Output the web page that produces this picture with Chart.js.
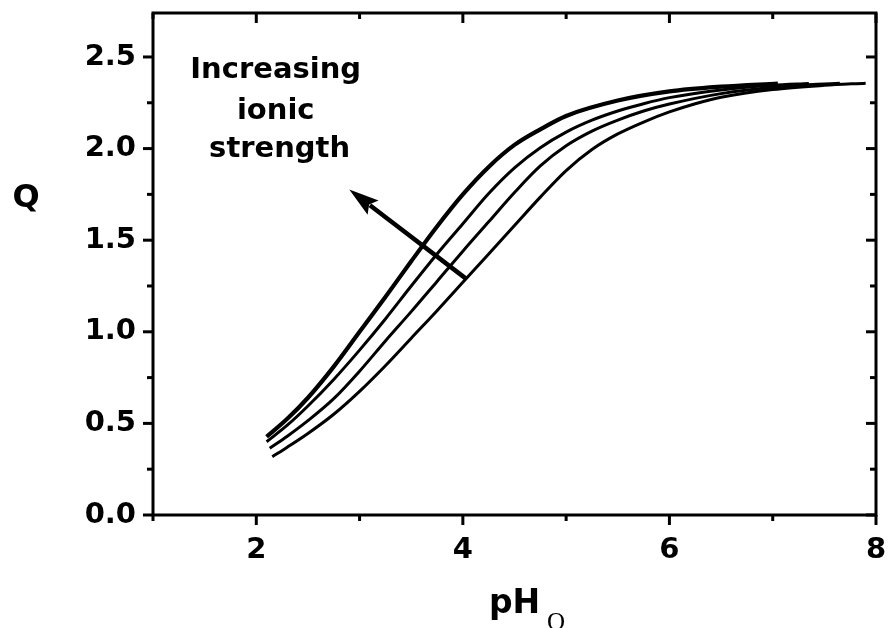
<!DOCTYPE html>
<html><head><meta charset="utf-8">
<script src="https://cdn.jsdelivr.net/npm/chart.js@4.4.1/dist/chart.umd.min.js"></script>
<style>html,body{margin:0;padding:0;background:#fff;}canvas{display:block;}</style>
</head><body>
<canvas id="c" width="888" height="628"></canvas>
<script>
// ---- data ----
const curve1PH = [2.10, 2.30, 2.50, 2.75, 3.00, 3.25, 3.50, 3.75, 4.00, 4.25, 4.50, 4.75, 5.00, 5.50, 6.00, 6.50, 7.05];
const curve1Q  = [0.427, 0.525, 0.64, 0.81, 1.00, 1.19, 1.385, 1.575, 1.75, 1.90, 2.02, 2.105, 2.178, 2.262, 2.312, 2.338, 2.355];
const curve2PH = [2.10, 2.30, 2.50, 2.75, 3.00, 3.25, 3.50, 3.75, 4.00, 4.25, 4.50, 4.75, 5.00, 5.25, 5.50, 5.75, 6.00, 6.50, 7.00, 7.35];
const curve2Q  = [0.40, 0.49, 0.595, 0.74, 0.90, 1.07, 1.25, 1.425, 1.59, 1.755, 1.895, 2.005, 2.09, 2.155, 2.205, 2.245, 2.278, 2.32, 2.345, 2.355];
const curve3PH = [2.13, 2.30, 2.50, 2.75, 3.00, 3.25, 3.50, 3.75, 4.00, 4.25, 4.50, 4.75, 5.00, 5.25, 5.50, 5.75, 6.00, 6.50, 7.00, 7.65];
const curve3Q  = [0.364, 0.43, 0.515, 0.635, 0.785, 0.95, 1.11, 1.275, 1.44, 1.60, 1.76, 1.905, 2.015, 2.095, 2.155, 2.205, 2.243, 2.30, 2.335, 2.357];
const curve4PH = [2.155, 2.30, 2.50, 2.75, 3.00, 3.25, 3.50, 3.75, 4.00, 4.25, 4.50, 4.75, 5.00, 5.25, 5.50, 5.75, 6.00, 6.25, 6.50, 7.00, 7.50, 7.90];
const curve4Q  = [0.318, 0.37, 0.445, 0.55, 0.675, 0.815, 0.965, 1.115, 1.27, 1.425, 1.58, 1.735, 1.88, 1.995, 2.08, 2.145, 2.20, 2.245, 2.28, 2.322, 2.345, 2.357];

const xTickValues = [2, 4, 6, 8];
const xTickLabels = ['2', '4', '6', '8'];
const xMinorValues = [1, 3, 5, 7];
const yTickValues = [0, 0.5, 1.0, 1.5, 2.0, 2.5];
const yTickLabels = ['0.0', '0.5', '1.0', '1.5', '2.0', '2.5'];
const yMinorValues = [0.25, 0.75, 1.25, 1.75, 2.25];

const xTitle = 'pH';
const xTitleSub = 'O';
const yTitle = 'Q';
const noteLines = ['Increasing', 'ionic', 'strength'];
// arrow: tail on the last curve, head pointing up-left (data units)
const arrowTail = {x: 4.03, y: 1.29};
const arrowTip  = {x: 2.90, y: 1.777};

function zip(xs, ys) { return xs.map((x, i) => ({x: x, y: ys[i]})); }
function near(a, b) { return Math.abs(a - b) < 1e-6; }

const FONT = '"DejaVu Sans", sans-serif';

const decor = {
  id: 'decor',
  beforeDraw(chart) {
    const c = chart.ctx;
    c.save(); c.fillStyle = '#fff'; c.fillRect(0, 0, chart.width, chart.height); c.restore();
  },
  afterDraw(chart) {
    const c = chart.ctx, a = chart.chartArea;
    const xs = chart.scales.x, ys = chart.scales.y;
    c.save();
    c.strokeStyle = '#000'; c.fillStyle = '#000';
    // frame
    c.lineWidth = 3;
    c.strokeRect(a.left, a.top, a.right - a.left, a.bottom - a.top);
    // ticks
    c.lineWidth = 3;
    const MAJ = 10, MIN = 6;
    function xt(v, len) {
      const p = xs.getPixelForValue(v);
      c.beginPath(); c.moveTo(p, a.bottom); c.lineTo(p, a.bottom + len); c.stroke();
      c.beginPath(); c.moveTo(p, a.top); c.lineTo(p, a.top + len); c.stroke();
    }
    function yt(v, len) {
      const p = ys.getPixelForValue(v);
      c.beginPath(); c.moveTo(a.left, p); c.lineTo(a.left - len, p); c.stroke();
      c.beginPath(); c.moveTo(a.right, p); c.lineTo(a.right - len, p); c.stroke();
    }
    xTickValues.forEach(v => xt(v, MAJ));
    xMinorValues.forEach(v => xt(v, MIN));
    yTickValues.forEach(v => yt(v, MAJ));
    yMinorValues.forEach(v => yt(v, MIN));
    // axis titles
    c.textBaseline = 'alphabetic';
    c.font = 'bold 32px ' + FONT;
    c.textAlign = 'center';
    c.fillText(yTitle, 26, 207);
    c.textAlign = 'left';
    c.font = 'bold 33px ' + FONT;
    c.fillText(xTitle, 489, 613);
    c.font = '25px "Liberation Serif", serif';
    c.fillText(xTitleSub, 547, 630);
    // note text
    c.font = 'bold 29px ' + FONT;
    c.textAlign = 'center';
    const nx = xs.getPixelForValue(2.188);
    c.fillText(noteLines[0], nx, ys.getPixelForValue(2.383));
    c.fillText(noteLines[1], nx, ys.getPixelForValue(2.164));
    c.fillText(noteLines[2], xs.getPixelForValue(2.226), ys.getPixelForValue(1.955));
    // arrow
    const tx = xs.getPixelForValue(arrowTail.x), ty = ys.getPixelForValue(arrowTail.y);
    const hx = xs.getPixelForValue(arrowTip.x), hy = ys.getPixelForValue(arrowTip.y);
    const dx = hx - tx, dy = hy - ty, L = Math.hypot(dx, dy);
    const ux = dx / L, uy = dy / L, px = -uy, py = ux;
    const HL = 30, HW = 9;
    const bx = hx - ux * HL, by = hy - uy * HL;
    c.lineWidth = 4.5; c.lineCap = 'butt';
    c.beginPath(); c.moveTo(tx, ty); c.lineTo(bx + ux * 4, by + uy * 4); c.stroke();
    c.beginPath();
    c.moveTo(hx, hy);
    c.lineTo(bx + px * HW, by + py * HW);
    c.lineTo(bx + ux * 5, by + uy * 5);
    c.lineTo(bx - px * HW, by - py * HW);
    c.closePath(); c.fill();
    c.restore();
  }
};

const lineStyle = {borderColor: '#000', pointRadius: 0, fill: false, cubicInterpolationMode: 'monotone'};

new Chart(document.getElementById('c'), {
  type: 'line',
  data: {
    datasets: [
      Object.assign({label: 'c1', data: zip(curve1PH, curve1Q), borderWidth: 4.2}, lineStyle),
      Object.assign({label: 'c2', data: zip(curve2PH, curve2Q), borderWidth: 3}, lineStyle),
      Object.assign({label: 'c3', data: zip(curve3PH, curve3Q), borderWidth: 3}, lineStyle),
      Object.assign({label: 'c4', data: zip(curve4PH, curve4Q), borderWidth: 3}, lineStyle)
    ]
  },
  options: {
    responsive: false,
    animation: false,
    devicePixelRatio: 1,
    layout: {padding: {top: 13, right: 12, left: 0, bottom: 0}},
    plugins: {legend: {display: false}, tooltip: {enabled: false}},
    scales: {
      x: {
        type: 'linear', min: 1, max: 8,
        grid: {display: false, drawTicks: false},
        border: {display: false},
        ticks: {
          stepSize: 1, autoSkip: false, maxRotation: 0, padding: 18,
          color: '#000', font: {family: FONT, size: 29, weight: 'bold'},
          callback: function (v) {
            const i = xTickValues.findIndex(t => near(t, v));
            return i >= 0 ? xTickLabels[i] : '';
          }
        },
        afterFit: function (s) { s.height = 113; s.paddingLeft = 0; s.paddingRight = 0; s.paddingTop = 0; s.paddingBottom = 0; }
      },
      y: {
        type: 'linear', min: 0, max: 2.74,
        grid: {display: false, drawTicks: false},
        border: {display: false},
        ticks: {
          stepSize: 0.5, autoSkip: false, padding: 17,
          color: '#000', font: {family: FONT, size: 29, weight: 'bold'},
          callback: function (v) {
            const i = yTickValues.findIndex(t => near(t, v));
            return i >= 0 ? yTickLabels[i] : '';
          }
        },
        afterFit: function (s) { s.width = 153; s.paddingLeft = 0; s.paddingRight = 0; s.paddingTop = 0; s.paddingBottom = 0; }
      }
    }
  },
  plugins: [decor]
});
</script>
</body></html>
